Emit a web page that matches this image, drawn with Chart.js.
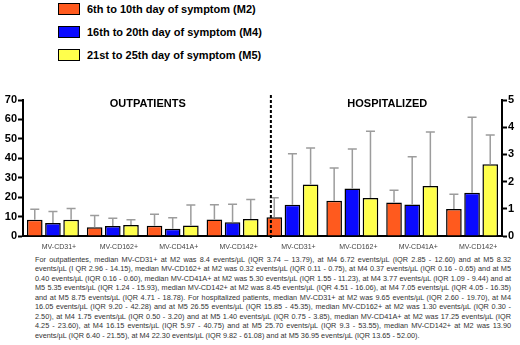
<!DOCTYPE html>
<html><head><meta charset="utf-8">
<script src="https://cdn.jsdelivr.net/npm/chart.js@4"></script>
<style>
html,body{margin:0;padding:0;background:#fff;width:520px;height:345px;overflow:hidden;font-family:"Liberation Sans",Arial,sans-serif;}
#legend{position:absolute;left:58px;top:3px;}
.li{position:absolute;left:0;height:13px;white-space:nowrap;font-weight:bold;font-size:11px;color:#000;}
.sw{position:absolute;left:0;top:0;width:20px;height:10px;border:1.5px solid #000;}
.lt{position:absolute;left:29px;top:-1px;line-height:14px;}
#wrap{position:absolute;left:0;top:85px;width:520px;height:170px;}
#note{position:absolute;left:35px;top:254.5px;width:476px;font-size:7.3px;line-height:9.5px;color:#333;}
#note div{text-align:justify;text-align-last:justify;white-space:nowrap;}
#note div.last{text-align:left;text-align-last:left;}
</style>
</head><body>
<div id="legend"></div>
<div id="wrap"><canvas id="c" width="520" height="170"></canvas></div>
<div id="note"></div>
<script>
const categories = ['MV-CD31+','MV-CD162+','MV-CD41A+','MV-CD142+','MV-CD31+','MV-CD162+','MV-CD41A+','MV-CD142+'];
const rightAxisCategory = 'MV-CD162+';
const groupTitles = ['OUTPATIENTS','HOSPITALIZED'];
const seriesNames = ['6th to 10th day of symptom (M2)','16th to 20th day of symptom (M4)','21st to 25th day of symptom (M5)'];
const seriesColors = ['#FF5A1E','#0A0AFF','#FFFF4C'];
const m2Median = [8.40, 0.32, 5.30, 8.45, 9.65, 1.30, 17.25, 13.90];
const m4Median = [6.72, 0.37, 3.77, 7.05, 16.05, 1.75, 16.15, 22.30];
const m5Median = [8.32, 0.40, 5.35, 8.75, 26.55, 1.40, 25.70, 36.95];
const m2Upper = [13.79, 0.75, 11.23, 16.06, 19.70, 2.50, 23.60, 21.55];
const m4Upper = [12.60, 0.65, 9.44, 16.35, 42.28, 3.20, 40.75, 61.08];
const m5Upper = [14.15, 0.60, 15.93, 18.78, 45.35, 3.85, 53.55, 52.00];
const leftTickMax = 70, leftTickStep = 10;
const rightTickMax = 5, rightTickStep = 1;
const noteLines = [
'For outpatientes, median MV-CD31+ at M2 was 8.4 events/\u00b5L (IQR 3.74 \u2013 13.79), at M4 6.72 events/\u00b5L (IQR 2.85 - 12.60) and at M5 8.32',
'events/\u00b5L (I QR 2.96 - 14.15), median MV-CD162+ at M2 was 0.32 events/\u00b5L (IQR 0.11 - 0.75), at M4 0.37 events/\u00b5L (IQR 0.16 - 0.65) and at M5',
'0.40 events/\u00b5L (IQR 0.16 - 0.60), median MV-CD41A+ at M2 was 5.30 events/\u00b5L (IQR 1.55 - 11.23), at M4 3.77 events/\u00b5L (IQR 1.09 - 9.44) and at',
'M5 5.35 events/\u00b5L (IQR 1.24 - 15.93), median MV-CD142+ at M2 was 8.45 events/\u00b5L (IQR 4.51 - 16.06), at M4 7.05 events/\u00b5L (IQR 4.05 - 16.35)',
'and at M5 8.75 events/\u00b5L (IQR 4.71 - 18.78). For hospitalized patients, median MV-CD31+ at M2 was 9.65 events/\u00b5L (IQR 2.60 - 19.70), at M4',
'16.05 events/\u00b5L (IQR 9.20 - 42.28) and at M5 26.55 events/\u00b5L  (IQR 15.85 - 45.35), median MV-CD162+ at M2 was 1.30 events/\u00b5L (IQR 0.30 -',
'2.50), at M4 1.75 events/\u00b5L  (IQR 0.50 - 3.20) and at M5 1.40 events/\u00b5L (IQR 0.75 - 3.85), median MV-CD41A+ at M2 was 17.25 events/\u00b5L (IQR',
'4.25 - 23.60), at M4 16.15 events/\u00b5L (IQR 5.97 - 40.75) and at M5 25.70 events/\u00b5L (IQR 9.3 - 53.55), median MV-CD142+ at M2 was 13.90',
'events/\u00b5L  (IQR 6.40 - 21.55), at M4 22.30 events/\u00b5L  (IQR 9.82 - 61.08) and at M5 36.95 events/\u00b5L (IQR 13.65 - 52.00).'
];

// legend
const lg = document.getElementById('legend');
seriesNames.forEach((n,i)=>{
  const d = document.createElement('div'); d.className='li'; d.style.top=(i*22.8)+'px';
  const s = document.createElement('div'); s.className='sw'; s.style.background=seriesColors[i];
  const t = document.createElement('div'); t.className='lt'; t.textContent=n;
  d.appendChild(s); d.appendChild(t); lg.appendChild(d);
});
// note
const nt = document.getElementById('note');
noteLines.forEach((l,i)=>{const d=document.createElement('div'); d.textContent=l; if(i===noteLines.length-1) d.className='last'; nt.appendChild(d);});

const medians = [m2Median, m4Median, m5Median];
const uppers = [m2Upper, m4Upper, m5Upper];
const onRight = categories.map(c => c === rightAxisCategory);
const datasets = [];
['yL','yR'].forEach(axis => {
  medians.forEach((arr, s) => {
    const keep = i => onRight[i] === (axis === 'yR');
    datasets.push({
      label: seriesNames[s],
      yAxisID: axis,
      data: arr.map((v,i) => keep(i) ? v : null),
      upper: uppers[s].map((v,i) => keep(i) ? v : null),
      backgroundColor: seriesColors[s],
      borderColor: '#000',
      borderWidth: 1.5,
      skipNull: true,
      categoryPercentage: 0.91,
      barPercentage: 0.86
    });
  });
});

const errorBars = {
  id: 'errorBars',
  afterDatasetsDraw(chart) {
    const ctx = chart.ctx;
    ctx.save();
    ctx.strokeStyle = '#9c9c9c';
    ctx.lineWidth = 1.5;
    chart.data.datasets.forEach((ds, di) => {
      const meta = chart.getDatasetMeta(di);
      const ys = chart.scales[ds.yAxisID];
      meta.data.forEach((el, i) => {
        if (ds.data[i] == null) return;
        const yTop = el.y, yUp = ys.getPixelForValue(ds.upper[i]);
        ctx.beginPath();
        ctx.moveTo(el.x, yTop); ctx.lineTo(el.x, yUp);
        ctx.moveTo(el.x - 4.5, yUp); ctx.lineTo(el.x + 4.5, yUp);
        ctx.stroke();
      });
    });
    ctx.restore();
  }
};

const extras = {
  id: 'extras',
  afterDraw(chart) {
    const ctx = chart.ctx, xs = chart.scales.x, a = chart.chartArea;
    ctx.save();
    ctx.fillStyle = '#000';
    ctx.font = 'bold 11px "Liberation Sans", Arial, sans-serif';
    ctx.textAlign = 'center'; ctx.textBaseline = 'middle';
    groupTitles.forEach((t, g) => {
      const x = (xs.getPixelForValue(g*4+1) + xs.getPixelForValue(g*4+2)) / 2 + 5;
      ctx.fillText(t, x, a.top + 4);
    });
    const xd = xs.getPixelForValue(3.64);
    ctx.strokeStyle = '#000'; ctx.lineWidth = 2; ctx.setLineDash([3,2]);
    ctx.beginPath(); ctx.moveTo(xd, a.top - 5); ctx.lineTo(xd, a.bottom + 4); ctx.stroke();
    ctx.restore();
  }
};

const axisFont = {family:'"Liberation Sans", Arial, sans-serif', size: 11, weight: 'bold'};
new Chart(document.getElementById('c'), {
  type: 'bar',
  data: { labels: categories, datasets },
  plugins: [errorBars, extras],
  options: {
    responsive: false, animation: false, devicePixelRatio: 1,
    layout: { padding: { top: 15, left: 0, right: 0, bottom: 0 } },
    plugins: { legend: { display: false }, tooltip: { enabled: false }, title: { display: false } },
    scales: {
      x: {
        type: 'category', offset: true,
        grid: { display: false, drawTicks: false, tickLength: 0 },
        border: { display: true, color: '#000', width: 2 },
        ticks: { font: {family:'"Liberation Sans", Arial, sans-serif', size: 7}, color: '#444', padding: 7, labelOffset: 6, maxRotation: 0, autoSkip: false },
        afterFit(s) { s.height = 19; }
      },
      yL: {
        position: 'left', min: 0, max: leftTickMax,
        ticks: { stepSize: leftTickStep, font: axisFont, color: '#000', padding: 1 },
        grid: { drawOnChartArea: false, drawTicks: true, tickLength: 5, tickColor: '#000', tickWidth: 2 },
        border: { display: true, color: '#000', width: 2 },
        afterFit(s) { s.width = 23; }
      },
      yR: {
        position: 'right', min: 0, max: rightTickMax,
        ticks: { stepSize: rightTickStep, font: axisFont, color: '#000', padding: 1 },
        grid: { drawOnChartArea: false, drawTicks: true, tickLength: 5, tickColor: '#000', tickWidth: 2 },
        border: { display: true, color: '#000', width: 2 },
        afterFit(s) { s.width = 18; }
      }
    }
  }
});
</script>
</body></html>
